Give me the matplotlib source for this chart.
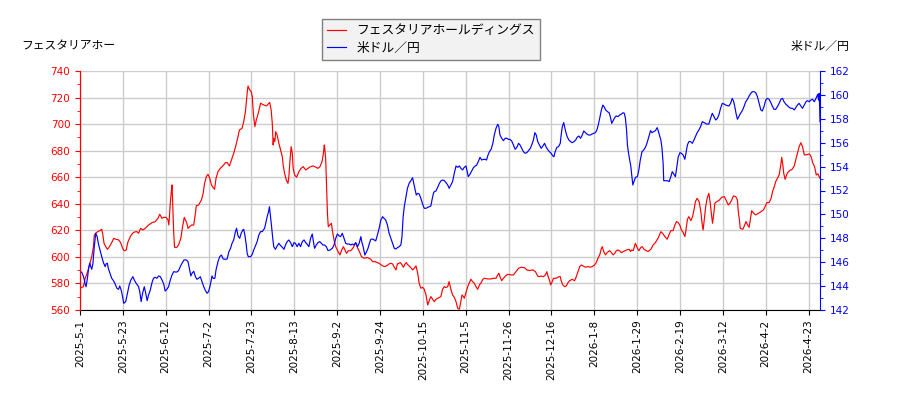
import numpy as np
import matplotlib
matplotlib.use("Agg")
import matplotlib.pyplot as plt
from matplotlib.ticker import MultipleLocator

plt.rcParams['font.family'] = ['DejaVu Sans', 'Noto Sans CJK JP']
jp_font = ['Noto Sans CJK JP', 'DejaVu Sans']

stock_name = "フェスタリアホールディングス"
fx_name = "米ドル／円"

# x軸の日付ラベル (15営業日ごと)
tick_labels = ["2025-5-1", "2025-5-23", "2025-6-12", "2025-7-2", "2025-7-23",
               "2025-8-13", "2025-9-2", "2025-9-24", "2025-10-15", "2025-11-5",
               "2025-11-26", "2025-12-16", "2026-1-8", "2026-1-29", "2026-2-19",
               "2026-3-12", "2026-4-2", "2026-4-23"]
tick_pos = [i * 15 for i in range(len(tick_labels))]
last_day = 259

# 株価 (営業日インデックス, 円)
stock_x = [0, 1.2, 1.8, 2.7, 3.5, 4.1, 4.7, 5.0, 5.5, 6.2, 7.0, 7.6, 8.0, 8.4, 9.0, 9.6, 10.3, 11.1, 11.8, 12.5,
           13.5, 14.2, 14.9, 15.4, 16.2, 16.7, 17.6, 18.4, 19.1, 19.9, 20.5, 21.2, 22.0, 22.8, 24.0, 25.2, 26.3, 27.3, 27.9, 28.7,
           29.3, 30.1, 30.8, 31.1, 31.6, 31.9, 32.2, 32.4, 32.8, 33.1, 33.9, 34.5, 35.3, 35.9, 36.5, 36.9, 37.4, 37.8, 38.4, 39.0,
           39.8, 40.4, 40.7, 41.5, 42.5, 43.1, 43.6, 44.2, 44.8, 45.4, 46.0, 46.6, 47.1, 47.6, 48.3, 49.1, 50.0, 50.9, 51.5, 52.3,
           53.0, 53.8, 54.6, 55.3, 55.8, 56.7, 57.3, 57.9, 58.5, 58.8, 59.3, 59.9, 60.3, 60.7, 61.2, 61.7, 62.4, 63.2, 64.3, 65.3,
           66.1, 66.4, 66.9, 67.3, 67.6, 67.8, 68.2, 68.5, 69.0, 69.6, 70.2, 70.8, 71.1, 71.6, 72.2, 72.8, 73.1, 73.5, 73.9, 74.3,
           74.6, 75.1, 75.8, 76.6, 77.4, 78.1, 79.0, 79.8, 80.7, 81.6, 82.5, 83.3, 84.0, 84.7, 85.2, 85.5, 85.7, 86.0, 86.3, 86.6,
           86.9, 87.4, 88.0, 88.3, 88.9, 89.5, 90.3, 91.0, 91.6, 92.2, 92.6, 93.3, 93.9, 94.5, 95.0, 95.7, 96.2, 96.5, 97.1, 97.8,
           98.5, 99.4, 100.6, 101.8, 102.4, 103.3, 104.1, 105.0, 105.9, 106.7, 107.4, 108.2, 108.8, 109.4, 110.0, 110.6, 111.1, 112.1, 112.5, 113.2,
           113.7, 114.2, 114.6, 115.2, 115.8, 116.4, 117.0, 117.6, 118.2, 118.7, 119.3, 119.9, 120.5, 121.1, 121.7, 122.3, 122.8, 123.4, 124.0, 124.6,
           125.2, 126.3, 126.9, 127.5, 128.1, 128.7, 129.2, 129.8, 130.4, 131.0, 131.6, 132.2, 132.8, 133.3, 133.7, 134.2, 134.5, 135.1, 135.7, 136.3,
           136.8, 137.4, 138.0, 138.6, 139.2, 139.8, 140.4, 141.0, 141.5, 142.7, 143.9, 144.7, 145.6, 146.2, 146.6, 147.0, 147.6, 148.2, 148.9, 149.7,
           150.9, 151.7, 152.6, 153.5, 154.4, 155.6, 156.4, 157.3, 158.5, 159.4, 160.2, 160.8, 161.4, 162.2, 162.9, 163.4, 163.8, 164.3, 164.7, 165.3,
           165.7, 166.7, 167.6, 168.1, 168.4, 169.0, 169.6, 170.2, 170.8, 171.4, 172.3, 173.1, 173.7, 174.3, 174.9, 175.5, 176.0, 177.0, 177.8, 178.6,
           179.3, 180.1, 180.7, 181.3, 181.9, 182.5, 182.8, 183.3, 183.9, 184.5, 185.4, 186.0, 186.6, 187.2, 187.7, 188.3, 188.9, 189.5, 190.1, 191.3,
           192.2, 192.7, 193.0, 193.6, 194.4, 195.1, 195.6, 196.3, 196.8, 197.4, 198.2, 198.8, 199.8, 200.6, 201.4, 202.3, 203.3, 204.1, 204.7, 205.5,
           206.1, 206.8, 207.6, 208.2, 208.8, 209.4, 210.0, 210.5, 211.1, 211.7, 212.1, 212.6, 213.1, 213.8, 214.4, 215.0, 215.4, 216.0, 216.7, 217.3,
           217.8, 218.1, 218.5, 219.0, 219.5, 220.1, 220.6, 221.1, 221.4, 221.9, 222.2, 222.8, 223.6, 224.6, 225.5, 226.1, 226.9, 227.5, 228.1, 228.7,
           229.5, 230.1, 230.4, 230.8, 231.1, 232.0, 232.5, 233.1, 233.7, 234.2, 234.6, 235.1, 235.8, 236.5, 237.4, 238.4, 239.2, 239.8, 240.4, 241.2,
           241.9, 242.4, 243.0, 243.5, 244.1, 244.7, 245.2, 245.6, 246.0, 246.3, 246.8, 247.3, 247.7, 248.6, 249.1, 250.0, 250.5, 251.1, 251.7, 252.3,
           252.9, 253.5, 254.1, 254.8, 255.3, 255.9, 256.5, 257.1, 257.7, 258.3, 258.7, 259.0]
stock_y = [576.4, 577.6, 583.9, 588.9, 595.2, 600.2, 607.7, 616.5, 617.8, 619.0, 619.8, 620.8, 616.5, 610.3, 607.7, 605.7, 607.7, 610.8, 614.0, 613.3,
           612.8, 610.8, 606.5, 604.7, 605.2, 610.8, 615.3, 617.8, 618.8, 619.0, 617.8, 621.5, 620.3, 621.5, 624.0, 625.8, 626.5, 629.0, 632.1, 629.0,
           629.8, 629.8, 627.8, 624.0, 640.4, 647.9, 654.2, 642.9, 617.8, 607.2, 607.2, 609.0, 614.0, 622.8, 629.8, 627.8, 625.3, 621.5, 622.8, 624.0,
           624.0, 632.8, 638.6, 639.1, 642.9, 647.9, 655.4, 660.4, 662.2, 659.2, 654.2, 652.2, 650.9, 659.2, 664.2, 666.7, 668.5, 671.0, 671.0, 668.5,
           673.0, 678.0, 684.3, 690.6, 695.6, 696.8, 701.9, 709.4, 723.2, 728.7, 726.2, 724.4, 720.7, 706.9, 698.1, 703.1, 708.2, 715.7, 714.4, 713.7,
           715.7, 716.2, 710.6, 700.6, 684.3, 689.3, 686.8, 694.3, 691.8, 685.6, 680.5, 675.5, 669.2, 663.0, 657.9, 655.4, 660.4, 673.0, 683.0, 678.0,
           666.7, 661.7, 660.0, 664.2, 666.7, 668.0, 665.5, 666.7, 668.0, 668.5, 667.5, 666.7, 668.0, 671.7, 678.0, 684.3, 681.0, 673.0, 652.9, 632.8,
           622.8, 624.0, 625.3, 620.3, 612.8, 607.7, 604.0, 601.5, 605.2, 607.7, 605.7, 602.7, 604.7, 604.5, 605.2, 607.2, 609.7, 610.7, 607.0, 604.0,
           600.2, 599.0, 599.5, 598.2, 596.4, 596.4, 595.7, 594.7, 593.2, 592.7, 593.4, 594.7, 595.2, 594.7, 592.2, 590.2, 594.7, 595.7, 594.7, 592.2,
           594.4, 595.7, 594.4, 593.2, 591.9, 590.2, 591.4, 593.2, 587.7, 580.1, 576.4, 577.1, 575.6, 571.3, 563.8, 567.6, 570.1, 568.1, 566.3, 568.1,
           568.8, 570.1, 575.6, 577.6, 576.9, 577.6, 581.4, 575.6, 571.3, 569.6, 566.3, 561.3, 560.6, 566.3, 571.3, 570.1, 568.8, 573.1, 577.6, 580.6,
           583.1, 581.4, 580.1, 577.6, 575.6, 578.9, 580.6, 583.1, 583.9, 583.4, 583.4, 583.9, 583.9, 586.4, 587.7, 585.1, 582.1, 583.9, 585.6, 586.9,
           586.4, 586.4, 588.9, 591.4, 592.2, 591.9, 590.2, 589.7, 590.2, 588.9, 585.6, 585.1, 585.6, 585.1, 586.4, 588.9, 585.6, 582.6, 578.9, 581.4,
           583.9, 583.9, 585.1, 585.1, 582.1, 578.9, 577.6, 578.1, 580.6, 582.1, 583.1, 582.1, 585.1, 588.9, 592.7, 593.9, 593.2, 592.2, 592.7, 592.2,
           592.7, 593.9, 595.7, 599.0, 601.5, 606.5, 607.7, 604.0, 601.5, 603.2, 604.7, 603.2, 601.5, 602.7, 604.7, 605.2, 604.5, 603.2, 604.0, 605.2,
           605.7, 604.0, 605.2, 604.7, 610.2, 606.5, 604.7, 607.2, 607.7, 605.7, 604.7, 604.0, 605.7, 609.0, 610.8, 614.0, 619.0, 617.3, 615.3, 613.3,
           616.5, 619.8, 619.8, 624.0, 626.6, 625.8, 623.6, 620.3, 618.3, 615.3, 620.3, 628.3, 630.3, 627.3, 630.3, 636.6, 641.6, 644.1, 641.6, 634.1,
           624.0, 620.3, 627.8, 637.9, 644.1, 647.9, 640.4, 630.3, 625.3, 634.1, 640.4, 641.6, 642.4, 644.9, 645.4, 642.9, 639.1, 640.4, 642.9, 645.9,
           645.4, 642.9, 634.1, 627.8, 621.5, 620.8, 623.3, 626.6, 624.0, 622.3, 627.8, 634.8, 632.8, 631.6, 632.8, 634.1, 635.4, 637.9, 640.9, 640.9,
           644.1, 649.2, 652.9, 656.7, 659.2, 661.7, 668.0, 675.0, 669.2, 663.0, 658.4, 661.7, 663.5, 665.5, 665.5, 668.5, 673.0, 678.0, 683.0, 686.0,
           683.0, 676.8, 676.8, 677.3, 677.5, 675.5, 670.5, 668.0, 661.7, 662.5, 660.4, 659.2]

# 米ドル／円 (営業日インデックス, 円)
fx_x = [0, 0.8, 1.4, 1.8, 2.1, 2.5, 2.7, 3.0, 3.4, 3.7, 4.1, 4.5, 4.7, 5.0, 5.5, 6.0, 6.4, 7.0, 7.6, 8.2,
        8.8, 9.1, 9.6, 9.9, 10.5, 11.1, 11.7, 12.3, 12.9, 13.5, 13.9, 14.4, 14.9, 15.3, 16.0, 16.6, 17.2, 17.8, 18.5, 19.1,
        19.8, 20.5, 20.9, 21.4, 21.9, 22.5, 23.0, 23.5, 24.0, 24.6, 25.2, 25.7, 26.3, 26.9, 27.5, 28.1, 28.7, 29.3, 29.8, 30.4,
        31.0, 31.6, 32.2, 32.8, 33.3, 33.9, 34.5, 35.1, 35.7, 36.4, 37.2, 37.8, 38.4, 38.8, 39.2, 39.8, 40.4, 40.9, 41.5, 42.1,
        42.7, 43.3, 43.9, 44.5, 45.0, 45.6, 46.2, 46.6, 47.2, 47.6, 48.3, 48.9, 49.5, 50.1, 50.9, 51.5, 52.1, 52.7, 53.2, 53.8,
        54.4, 54.8, 55.3, 55.9, 56.4, 57.0, 57.3, 57.7, 58.2, 58.5, 58.9, 59.7, 60.3, 60.8, 61.4, 62.0, 62.6, 63.2, 63.8, 64.6,
        65.0, 65.5, 66.0, 66.3, 66.7, 67.0, 67.4, 67.8, 68.4, 69.0, 69.6, 70.2, 70.8, 71.4, 71.9, 72.5, 73.1, 73.7, 74.3, 74.9,
        75.4, 76.0, 76.6, 77.2, 77.8, 78.4, 79.0, 79.5, 80.1, 80.7, 81.3, 81.6, 82.1, 82.7, 83.3, 83.9, 84.5, 85.0, 85.6, 86.2,
        86.8, 87.5, 88.3, 88.9, 89.5, 90.1, 90.7, 91.2, 91.8, 92.4, 93.0, 93.6, 94.2, 94.8, 95.3, 95.9, 96.5, 97.1, 97.7, 98.3,
        98.6, 99.1, 99.7, 100.3, 100.8, 101.3, 101.8, 102.4, 103.0, 103.5, 104.1, 104.7, 105.3, 105.9, 106.4, 107.0, 107.6, 108.2, 108.8, 109.4,
        110.0, 110.6, 111.1, 111.7, 112.3, 112.7, 113.1, 113.5, 114.1, 114.6, 115.2, 115.8, 116.4, 116.7, 117.2, 117.7, 118.2, 118.7, 119.3, 119.9,
        120.5, 121.1, 121.7, 122.3, 122.8, 123.2, 123.7, 124.0, 124.6, 125.2, 125.8, 126.3, 126.9, 127.5, 128.1, 128.7, 129.2, 129.8, 130.4, 131.0,
        131.6, 132.2, 132.8, 133.3, 133.9, 134.5, 135.1, 135.4, 135.9, 136.5, 137.1, 137.7, 138.3, 138.8, 139.4, 140.0, 140.6, 141.2, 141.8, 142.3,
        142.8, 143.3, 143.9, 144.5, 145.0, 145.6, 146.2, 146.6, 147.0, 147.6, 148.2, 148.8, 149.4, 150.0, 150.5, 151.1, 151.7, 152.3, 152.9, 153.5,
        154.0, 154.6, 155.2, 155.8, 156.4, 157.0, 157.6, 158.1, 158.7, 159.2, 159.7, 160.2, 160.8, 161.4, 162.0, 162.6, 163.2, 163.8, 164.3, 164.9,
        165.5, 165.9, 166.3, 166.9, 167.5, 168.1, 168.4, 168.8, 169.3, 169.6, 170.0, 170.5, 171.1, 171.7, 172.3, 172.9, 173.5, 174.0, 174.6, 175.2,
        175.8, 176.3, 176.9, 177.4, 178.0, 178.6, 179.2, 179.8, 180.4, 180.9, 181.4, 181.9, 182.5, 183.0, 183.4, 184.0, 184.6, 185.2, 185.6, 186.1,
        186.6, 187.2, 187.7, 188.3, 188.9, 189.5, 190.1, 190.5, 190.9, 191.3, 191.6, 192.0, 192.4, 192.8, 193.1, 193.5, 193.9, 194.4, 195.1, 195.6,
        196.1, 196.7, 197.3, 197.9, 198.5, 199.1, 199.7, 200.2, 200.8, 201.4, 202.0, 202.3, 202.8, 203.3, 203.7, 204.1, 204.3, 204.9, 205.6, 206.2,
        206.8, 207.3, 207.8, 208.4, 208.9, 209.4, 210.0, 210.5, 211.1, 211.7, 212.2, 212.6, 213.1, 213.7, 214.3, 214.9, 215.4, 216.0, 216.6, 217.2,
        217.8, 218.5, 219.3, 220.1, 220.7, 221.3, 221.9, 222.5, 223.1, 223.6, 224.2, 224.8, 225.4, 226.0, 226.6, 227.1, 227.7, 228.3, 228.8, 229.3,
        229.6, 230.1, 230.7, 231.2, 231.8, 232.4, 233.0, 233.6, 234.2, 234.8, 235.3, 235.9, 236.5, 237.1, 237.7, 238.3, 238.8, 239.4, 240.0, 240.6,
        241.2, 241.8, 242.4, 242.9, 243.5, 244.1, 244.7, 245.3, 245.9, 246.4, 247.0, 247.6, 248.2, 248.8, 249.4, 250.0, 250.5, 251.1, 251.7, 252.3,
        252.9, 253.5, 254.1, 254.6, 255.2, 255.8, 256.4, 257.0, 257.6, 258.2, 258.5, 258.7, 258.9, 259.0]
fx_y = [145.30, 145.07, 144.65, 144.18, 143.95, 144.51, 144.85, 145.49, 145.91, 145.68, 145.41, 145.85, 146.46, 147.30, 148.42, 148.14, 147.58, 147.02, 146.46, 145.96,
        145.63, 145.85, 145.91, 145.49, 145.07, 144.65, 144.46, 144.18, 143.82, 143.73, 144.01, 143.68, 143.12, 142.56, 142.70, 143.40, 144.09, 144.51, 144.79, 144.46,
        144.18, 143.95, 143.54, 142.70, 143.40, 143.95, 143.40, 142.78, 143.26, 143.68, 144.29, 144.65, 144.74, 144.65, 144.85, 144.79, 144.51, 144.18, 143.59, 143.73,
        143.95, 144.51, 144.93, 145.21, 145.18, 145.18, 145.29, 145.63, 145.91, 146.19, 146.19, 146.05, 145.35, 144.85, 145.07, 145.24, 144.79, 144.57, 144.65, 144.79,
        144.38, 143.95, 143.62, 143.40, 143.54, 144.09, 144.85, 144.65, 144.65, 145.35, 146.05, 146.46, 146.60, 146.27, 146.24, 146.27, 146.88, 147.16, 147.58, 147.86,
        148.56, 148.84, 148.20, 148.00, 148.42, 148.70, 148.75, 148.28, 147.44, 146.74, 146.46, 146.46, 146.66, 147.02, 147.36, 147.72, 148.28, 148.56, 148.56, 148.84,
        149.25, 149.81, 150.23, 150.65, 149.81, 149.11, 148.14, 147.30, 147.08, 147.36, 147.58, 147.39, 147.25, 147.08, 147.44, 147.72, 147.86, 147.64, 147.30, 147.64,
        147.58, 147.30, 147.58, 147.30, 147.72, 147.86, 147.64, 147.50, 147.30, 148.00, 148.36, 147.86, 147.16, 147.44, 147.64, 147.72, 147.58, 147.44, 147.44, 147.30,
        146.97, 147.02, 147.16, 147.44, 148.00, 148.36, 148.20, 148.14, 148.42, 148.00, 147.58, 147.52, 147.52, 147.44, 147.52, 147.44, 147.64, 147.30, 147.58, 148.14,
        147.72, 147.30, 146.60, 146.88, 147.16, 147.58, 147.92, 147.94, 147.86, 147.78, 148.28, 148.84, 149.53, 149.81, 149.67, 149.53, 149.11, 148.42, 148.00, 147.58,
        147.16, 147.11, 147.22, 147.30, 147.44, 148.14, 149.81, 150.65, 151.49, 152.18, 152.60, 152.82, 153.07, 152.74, 152.18, 151.62, 151.76, 151.71, 151.35, 150.87,
        150.51, 150.51, 150.59, 150.65, 150.70, 151.21, 151.76, 151.90, 151.96, 152.27, 152.60, 152.80, 152.88, 152.82, 152.66, 152.46, 152.18, 152.46, 152.74, 153.44,
        154.05, 153.94, 154.05, 153.86, 153.72, 153.94, 154.05, 153.72, 153.16, 153.36, 153.63, 153.91, 154.05, 154.11, 154.41, 154.78, 154.55, 154.61, 154.61, 154.55,
        154.97, 155.25, 155.45, 155.95, 156.64, 157.20, 157.54, 157.34, 156.64, 156.37, 156.17, 156.37, 156.37, 156.28, 156.28, 156.14, 155.81, 155.45, 155.61, 155.95,
        155.81, 155.53, 155.25, 155.11, 155.17, 155.34, 155.53, 155.81, 156.23, 156.84, 156.64, 156.09, 155.81, 155.53, 155.72, 155.95, 155.61, 155.39, 155.25, 155.11,
        154.89, 154.83, 155.25, 155.61, 155.67, 155.95, 156.64, 157.34, 157.68, 157.34, 156.92, 156.51, 156.23, 156.09, 156.00, 156.09, 156.23, 156.45, 156.56, 156.37,
        156.64, 156.98, 156.84, 156.73, 156.64, 156.64, 156.73, 156.78, 156.84, 157.06, 157.48, 158.04, 158.74, 159.15, 159.02, 158.74, 158.60, 158.51, 158.18, 157.62,
        157.84, 158.12, 158.24, 158.18, 158.32, 158.40, 158.51, 158.46, 158.04, 157.06, 155.81, 155.11, 154.55, 154.00, 153.30, 152.46, 152.74, 153.10, 153.16, 153.72,
        154.55, 155.25, 155.39, 155.61, 156.00, 156.51, 157.01, 156.84, 156.92, 157.01, 157.26, 157.06, 156.64, 156.23, 155.53, 154.27, 152.82, 152.82, 152.82, 152.74,
        153.16, 153.58, 153.38, 153.16, 154.00, 154.83, 155.17, 155.11, 154.97, 154.61, 155.25, 155.81, 156.09, 156.09, 155.95, 156.23, 156.51, 156.84, 157.06, 157.34,
        157.76, 157.68, 157.56, 157.56, 158.04, 158.46, 158.18, 157.90, 158.04, 158.32, 158.88, 159.29, 159.24, 159.15, 159.10, 159.07, 159.29, 159.71, 159.43, 158.88,
        158.46, 157.96, 158.23, 158.46, 158.68, 159.02, 159.43, 159.63, 159.91, 160.13, 160.27, 160.27, 160.19, 159.85, 159.29, 158.74, 158.65, 159.02, 159.57, 159.71,
        159.63, 159.35, 159.02, 158.79, 158.79, 159.02, 159.29, 159.63, 159.71, 159.43, 159.24, 159.10, 158.96, 158.88, 158.88, 158.74, 158.93, 159.15, 159.29, 159.07,
        158.88, 159.15, 159.43, 159.52, 159.43, 159.57, 159.63, 159.43, 159.71, 160.05, 159.57, 160.13, 158.88, 157.76]


fig = plt.figure(figsize=(9, 4), dpi=100)
ax1 = fig.add_axes([0.0889, 0.225, 0.8222, 0.5975])
ax2 = ax1.twinx()

l1, = ax1.plot(stock_x, stock_y, color="red", linewidth=0.85, label=stock_name)
l2, = ax2.plot(fx_x, fx_y, color="blue", linewidth=0.85, label=fx_name)

ax1.set_xlim(0, last_day)
ax1.set_ylim(560, 740)
ax2.set_ylim(142, 162)
ax1.yaxis.set_major_locator(MultipleLocator(20))
ax1.yaxis.set_minor_locator(MultipleLocator(10))
ax2.yaxis.set_major_locator(MultipleLocator(2))
ax2.yaxis.set_minor_locator(MultipleLocator(1))

ax1.set_xticks(tick_pos)
ax1.set_xticklabels(tick_labels, rotation=90, fontsize=7.5)
ax1.grid(True, color="#cccccc", linewidth=1.0)
ax1.set_axisbelow(True)

# 軸の色
ax1.tick_params(axis="y", colors="red", labelsize=7.5)
ax2.tick_params(axis="y", colors="blue", labelsize=7.5)
ax1.tick_params(axis="y", which="minor", colors="red")
ax2.tick_params(axis="y", which="minor", colors="blue")
for a in (ax1, ax2):
    a.spines["top"].set_visible(False)
ax2.spines["left"].set_color("red")
ax2.spines["right"].set_color("blue")
ax1.spines["left"].set_color("red")
ax1.spines["right"].set_visible(False)
ax2.spines["bottom"].set_visible(False)

fig.text(0.024, 0.885, "フェスタリアホー", fontsize=8.5, family=jp_font, va="center", ha="left")
fig.text(0.944, 0.885, fx_name, fontsize=8.5, family=jp_font, va="center", ha="right")

leg = fig.legend([l1, l2], [stock_name, fx_name], loc="upper center",
                 bbox_to_anchor=(0.479, 0.968), prop={'family': jp_font, 'size': 9.2},
                 fancybox=False, edgecolor="#808080", facecolor="#f2f2f2", framealpha=1.0,
                 handlelength=1.5, borderpad=0.4, labelspacing=0.35)

fig.savefig("out.png", dpi=100)
